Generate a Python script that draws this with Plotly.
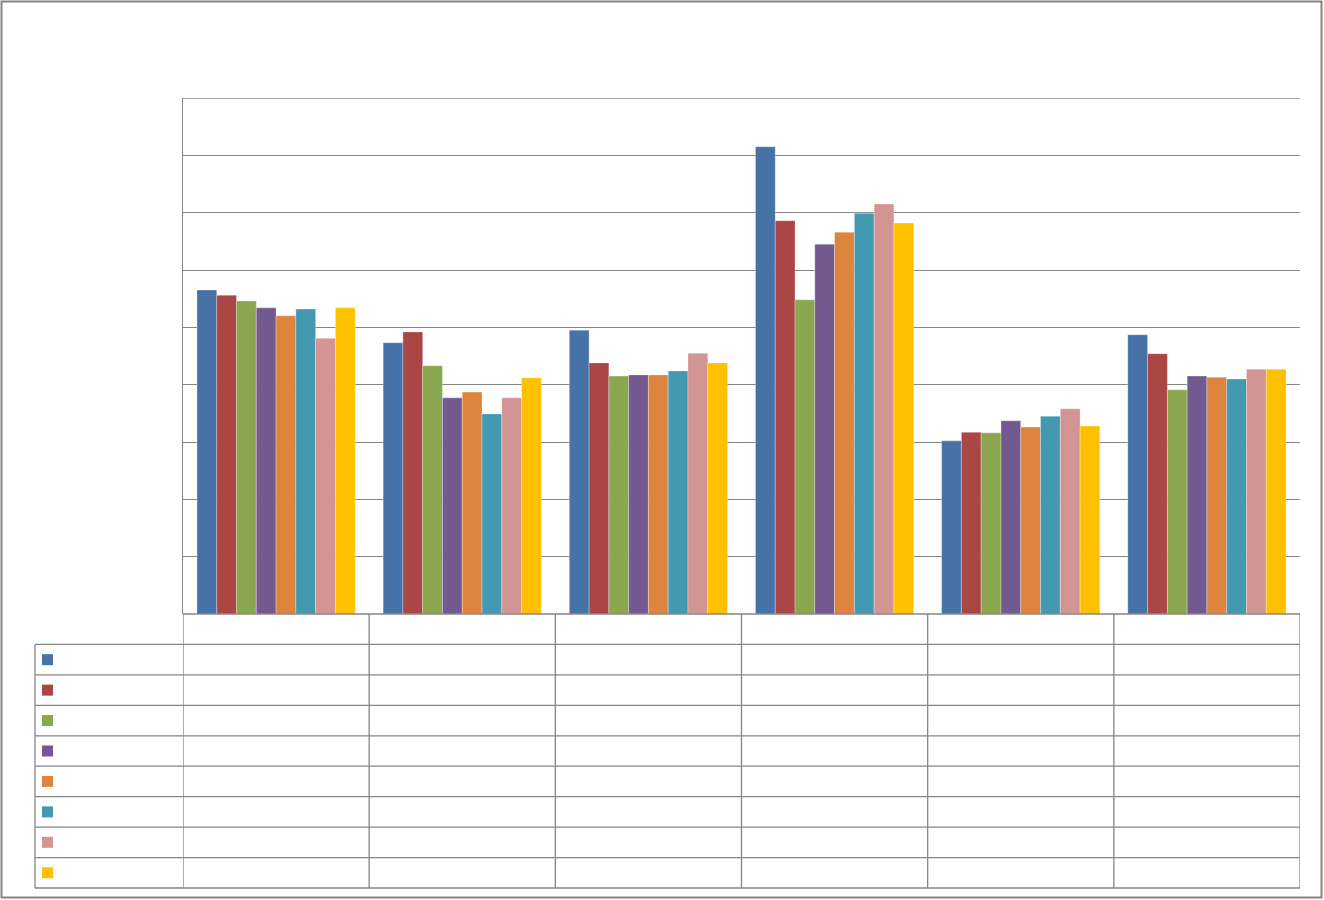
import plotly.graph_objects as go

# six groups, eight series; the source chart shows no labels at all
categories = [0, 1, 2, 3, 4, 5]
series_names = ["S1", "S2", "S3", "S4", "S5", "S6", "S7", "S8"]
values = [
    [5.65, 4.73, 4.95, 8.15, 3.02, 4.87],
    [5.56, 4.92, 4.38, 6.86, 3.17, 4.54],
    [5.46, 4.33, 4.15, 5.48, 3.16, 3.91],
    [5.34, 3.77, 4.17, 6.45, 3.37, 4.15],
    [5.20, 3.87, 4.17, 6.66, 3.26, 4.13],
    [5.32, 3.49, 4.24, 6.99, 3.45, 4.10],
    [4.81, 3.77, 4.55, 7.15, 3.58, 4.27],
    [5.34, 4.12, 4.38, 6.82, 3.28, 4.27],
]
colors = ["#4672A8", "#AA4644", "#8AA64F", "#725990",
          "#DD853E", "#4299B0", "#D39494", "#FFC000"]

W, H = 1324, 900
L, R, T, B = 183, 1300, 98, 614   # plot area in pixels
GRID = "#868686"


def px(x):
    return (x - L) / (R - L)


def py(y):
    return (B - y) / (B - T)


fig = go.Figure()
for name, vals, col in zip(series_names, values, colors):
    fig.add_trace(go.Bar(x=categories, y=vals, name=name,
                         marker=dict(color=col, line=dict(color="rgba(255,255,255,0.5)", width=0.6))))

shapes = []
line = dict(color=GRID, width=1.3)

# outer chart border
shapes.append(dict(type="rect", xref="paper", yref="paper",
                   x0=px(1.5), x1=px(1321.5), y0=py(897.5), y1=py(1.5),
                   line=dict(color=GRID, width=2)))
# top gridline (falls on the edge of the plot area)
shapes.append(dict(type="line", xref="paper", yref="y",
                   x0=0, x1=1, y0=9, y1=9, line=line))

# data table under the plot
row_top = 614
row_h = (888 - 614) / 9
rows_y = [row_top + i * row_h for i in range(10)]
for i, y in enumerate(rows_y):
    x0 = L if i == 0 else 35
    shapes.append(dict(type="line", xref="paper", yref="paper",
                       x0=px(x0), x1=px(R), y0=py(y), y1=py(y), line=line))
# vertical lines at group boundaries
for k in range(len(categories) + 1):
    shapes.append(dict(type="line", xref="x", yref="paper",
                       x0=k - 0.5, x1=k - 0.5, y0=py(888), y1=py(614), line=line))
shapes.append(dict(type="line", xref="paper", yref="paper",
                   x0=px(35), x1=px(35), y0=py(888), y1=py(rows_y[1]), line=line))
# legend keys in the left column
for i, col in enumerate(colors):
    yc = (rows_y[i + 1] + rows_y[i + 2]) / 2
    shapes.append(dict(type="rect", xref="paper", yref="paper",
                       x0=px(42), x1=px(53), y0=py(yc + 5.5), y1=py(yc - 5.5),
                       fillcolor=col, line=dict(width=0)))

fig.update_layout(
    width=W, height=H,
    margin=dict(l=L, r=W - R, t=T, b=H - B),
    paper_bgcolor="white", plot_bgcolor="white",
    barmode="group", bargap=0.15, bargroupgap=0,
    showlegend=False,
    shapes=shapes,
    xaxis=dict(range=[-0.5, 5.5], showticklabels=False, showgrid=False,
               zeroline=False, ticks=""),
    yaxis=dict(range=[0, 9], dtick=1, showticklabels=False, ticks="",
               showgrid=True, gridcolor=GRID, gridwidth=1.3,
               showline=True, linecolor=GRID, linewidth=1.3, zeroline=False),
)

fig.write_html("out.html", config={"displayModeBar": False},
               post_script="document.body.style.margin='0';document.body.style.overflow='hidden';")
